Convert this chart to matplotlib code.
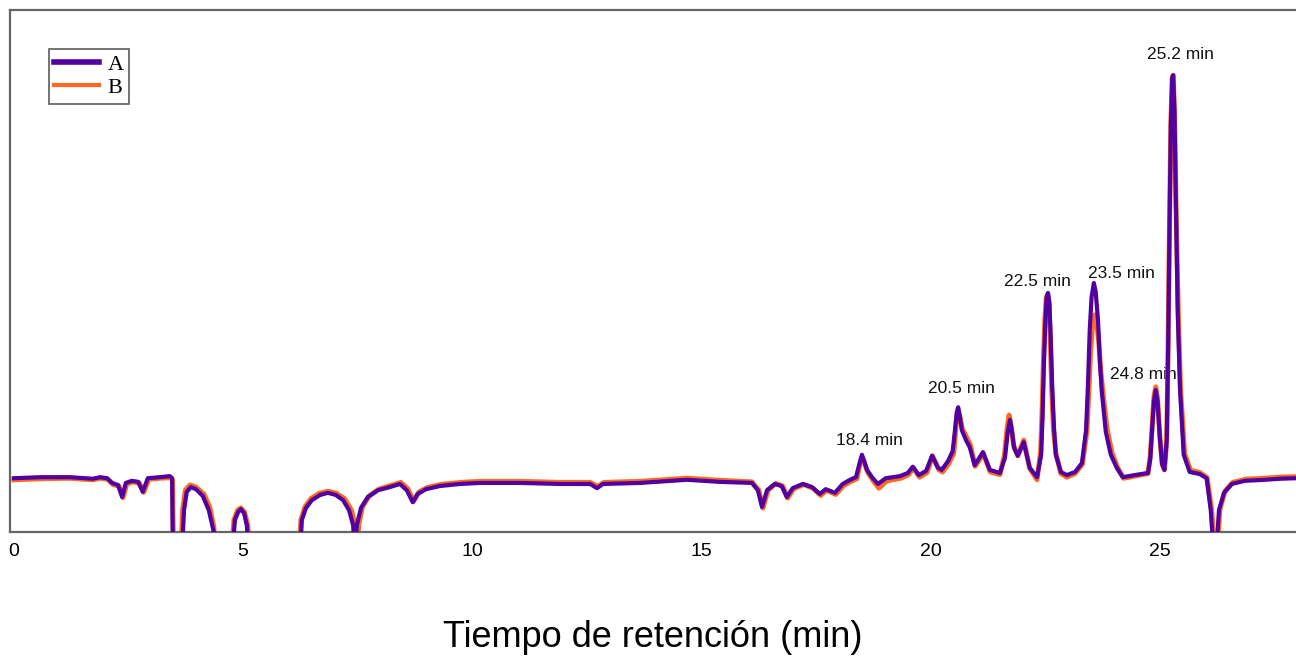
import matplotlib
matplotlib.use("Agg")
import matplotlib.pyplot as plt

# Cromatograma: tiempo de retención (min) y señal (unidades arbitrarias)
time_a = [0.00, 0.57, 1.22, 1.72, 1.88, 2.03, 2.14, 2.27, 2.36, 2.44, 2.57, 2.71, 2.81, 2.92,
          3.18, 3.40, 3.45, 3.47, 3.66, 3.71, 3.77, 3.86, 3.97, 4.12, 4.25, 4.36, 4.41,
          4.76, 4.82, 4.89, 4.95, 5.02, 5.08, 5.13,
          6.24, 6.28, 6.37, 6.50, 6.68, 6.85, 7.02, 7.18, 7.31, 7.40, 7.44, 7.48, 7.57,
          7.72, 7.94, 8.20, 8.42, 8.57, 8.70, 8.81, 8.99, 9.29, 9.73, 10.17, 11.04, 11.91,
          12.57, 12.72, 12.85, 13.66, 14.68, 15.40, 16.10, 16.23, 16.32, 16.43, 16.60,
          16.75, 16.86, 16.99, 17.21, 17.41, 17.58, 17.71, 17.91, 18.08, 18.24, 18.37,
          18.45, 18.50, 18.55, 18.61, 18.72, 18.85, 19.02, 19.33, 19.50, 19.61, 19.74,
          19.90, 20.03, 20.16, 20.24, 20.38, 20.48, 20.53, 20.57, 20.60, 20.63, 20.68,
          20.77, 20.85, 20.96, 21.14, 21.29, 21.51, 21.62, 21.68, 21.73, 21.77, 21.82,
          21.90, 22.03, 22.16, 22.32, 22.41, 22.44, 22.47, 22.50, 22.53, 22.56, 22.59,
          22.62, 22.65, 22.69, 22.73, 22.84, 22.97, 23.15, 23.30, 23.39, 23.43, 23.47,
          23.51, 23.56, 23.60, 23.65, 23.69, 23.73, 23.82, 23.93, 24.06, 24.19, 24.45,
          24.74, 24.79, 24.83, 24.87, 24.91, 24.95, 25.00, 25.05, 25.10, 25.15, 25.18,
          25.21, 25.24, 25.27, 25.29, 25.32, 25.35, 25.39, 25.44, 25.52, 25.65, 25.87,
          26.02, 26.11, 26.18, 26.22, 26.29, 26.40, 26.57, 26.85, 27.29, 27.62, 27.97]
signal_a = [10.3, 10.5, 10.5, 10.2, 10.5, 10.3, 9.4, 9.0, 6.7, 9.4, 9.8, 9.6, 7.7, 10.3,
            10.5, 10.7, 10.3, -5, -5, 4.2, 7.7, 8.6, 8.2, 6.9, 4.2, 0.0, -5,
            -5, 2.3, 3.8, 4.4, 3.6, 1.3, -5,
            -5, 2.3, 4.6, 6.1, 7.1, 7.5, 7.1, 6.1, 4.2, 1.3, -5, 1.3, 4.6,
            6.7, 8.0, 8.6, 9.2, 8.0, 5.7, 7.3, 8.2, 8.8, 9.2, 9.4, 9.4, 9.2,
            9.2, 8.4, 9.2, 9.4, 10.0, 9.6, 9.4, 8.0, 4.8, 8.0, 9.2,
            8.8, 6.7, 8.4, 9.2, 8.6, 7.3, 8.2, 7.5, 9.2, 10.0, 10.5,
            13.2, 14.8, 13.6, 11.9, 10.5, 9.2, 10.3, 10.7, 11.3, 12.5, 10.9,
            11.7, 14.6, 12.3, 11.9, 13.6, 15.5, 19.5, 23.0, 23.9, 22.5, 19.5,
            17.6, 16.3, 12.8, 15.3, 11.9, 11.3, 14.2, 19.0, 21.5, 19.5, 16.1,
            14.6, 17.2, 12.3, 10.5, 14.8, 22.0, 32.0, 40.0, 45.0, 45.8, 44.0,
            37.0, 28.0, 20.0, 14.8, 11.5, 10.9, 11.5, 13.2, 19.5, 28.0, 38.7,
            45.0, 47.7, 46.0, 40.6, 33.0, 27.2, 19.2, 14.8, 12.3, 10.5, 10.9,
            11.3, 14.0, 19.5, 25.0, 27.2, 25.0, 18.0, 13.0, 11.9, 17.6, 35.0,
            58.0, 78.0, 87.0, 87.5, 80.0, 63.0, 42.0, 27.2, 14.8, 11.5, 11.1,
            10.3, 4.2, -5, -5, 4.2, 7.5, 9.2, 9.8, 10.0, 10.2, 10.3]

time_b = [0.00, 0.57, 1.22, 1.72, 1.88, 2.05, 2.16, 2.29, 2.38, 2.46, 2.59, 2.73, 2.83, 2.94,
          3.18, 3.40, 3.46, 3.48, 3.64, 3.68, 3.74, 3.84, 3.97, 4.14, 4.27, 4.36, 4.41,
          4.74, 4.80, 4.88, 4.95, 5.03, 5.10, 5.15,
          6.22, 6.26, 6.35, 6.48, 6.66, 6.85, 7.04, 7.22, 7.36, 7.45, 7.49, 7.52, 7.60,
          7.75, 7.96, 8.22, 8.44, 8.59, 8.72, 8.83, 9.01, 9.31, 9.75, 10.17, 11.04, 11.91,
          12.57, 12.74, 12.87, 13.66, 14.68, 15.40, 16.10, 16.25, 16.34, 16.45, 16.62,
          16.77, 16.88, 17.01, 17.23, 17.43, 17.60, 17.73, 17.93, 18.10, 18.26, 18.39,
          18.45, 18.50, 18.56, 18.63, 18.74, 18.87, 19.04, 19.35, 19.52, 19.62, 19.76,
          19.92, 20.04, 20.18, 20.26, 20.40, 20.50, 20.54, 20.57, 20.60, 20.64, 20.69,
          20.78, 20.86, 20.97, 21.15, 21.30, 21.51, 21.61, 21.67, 21.71, 21.76, 21.81,
          21.90, 22.03, 22.16, 22.32, 22.40, 22.43, 22.46, 22.49, 22.52, 22.55, 22.58,
          22.61, 22.64, 22.68, 22.73, 22.84, 22.97, 23.15, 23.31, 23.41, 23.45, 23.49,
          23.54, 23.58, 23.62, 23.67, 23.71, 23.76, 23.85, 23.96, 24.08, 24.21, 24.45,
          24.74, 24.79, 24.83, 24.87, 24.91, 24.95, 25.00, 25.05, 25.10, 25.15, 25.18,
          25.21, 25.24, 25.27, 25.29, 25.32, 25.35, 25.40, 25.45, 25.54, 25.67, 25.87,
          26.03, 26.13, 26.20, 26.24, 26.31, 26.42, 26.59, 26.87, 27.29, 27.62, 27.97]
signal_b = [10.0, 10.2, 10.3, 10.0, 10.3, 10.1, 9.1, 8.8, 6.6, 9.2, 9.6, 9.4, 7.6, 10.1,
            10.3, 10.4, 10.0, -5, -5, 4.2, 8.0, 9.0, 8.6, 7.3, 4.8, 1.0, -5,
            -5, 2.3, 4.2, 4.6, 3.8, 1.3, -5,
            -5, 2.3, 4.8, 6.4, 7.4, 7.8, 7.4, 6.3, 4.2, 1.3, -5, 1.3, 4.8,
            6.9, 8.2, 8.9, 9.5, 8.3, 5.9, 7.6, 8.5, 9.1, 9.5, 9.7, 9.7, 9.5,
            9.5, 8.7, 9.5, 9.7, 10.3, 9.9, 9.6, 8.0, 4.6, 8.0, 9.3,
            8.8, 6.5, 8.3, 9.1, 8.4, 7.0, 8.0, 7.2, 8.9, 9.7, 10.2,
            12.8, 14.3, 13.0, 11.4, 9.9, 8.4, 9.8, 10.3, 11.0, 12.3, 10.5,
            11.4, 14.6, 11.9, 11.5, 13.2, 15.0, 19.0, 22.3, 23.0, 22.0, 19.8,
            18.2, 16.8, 12.6, 15.0, 11.5, 11.0, 14.8, 20.0, 22.4, 20.0, 16.6,
            14.6, 17.6, 12.2, 10.0, 15.5, 23.0, 33.0, 40.5, 44.8, 45.5, 43.5,
            36.5, 27.5, 19.5, 15.2, 11.2, 10.5, 11.2, 13.0, 19.5, 27.0, 35.0,
            40.5, 41.6, 40.5, 36.0, 31.0, 26.5, 19.6, 15.0, 12.3, 10.3, 10.7,
            11.2, 14.5, 20.0, 25.8, 27.8, 25.5, 18.2, 13.0, 11.9, 17.8, 35.5,
            58.5, 78.5, 87.0, 87.5, 80.5, 63.5, 42.5, 27.5, 15.0, 11.8, 11.4,
            10.4, 4.2, -5, -5, 4.4, 7.8, 9.5, 10.1, 10.3, 10.5, 10.6]

# Picos anotados
peak_labels = ["18.4 min", "20.5 min", "22.5 min", "23.5 min", "24.8 min", "25.2 min"]
label_x = [18.67, 20.68, 22.32, 24.17, 24.63, 25.44]
label_y = [17.6, 27.4, 47.9, 49.6, 30.1, 91.4]

xticks = [0, 5, 10, 15, 20, 25]

fig = plt.figure(figsize=(12.96, 6.58), dpi=100)
ax = fig.add_axes([0.0077, 0.1915, 0.9923, 0.7933])

ax.plot(time_b, signal_b, color='#FF6A20', lw=3.6, label='B', zorder=2,
        solid_joinstyle='round')
ax.plot(time_a, signal_a, color='#5200A0', lw=3.0, label='A', zorder=3,
        solid_joinstyle='round')

for txt, x, y in zip(peak_labels, label_x, label_y):
    ax.text(x, y, txt, ha='center', va='center', fontsize=12.5,
            family='Liberation Sans', color='#111111', zorder=1)

ax.set_xlim(-0.087, 27.97)
ax.set_ylim(0, 100)
ax.set_xticks(xticks)
ax.set_xticklabels([str(t) for t in xticks], fontsize=14, family='Liberation Sans')
ax.tick_params(axis='x', length=0, pad=8)
ax.set_yticks([])

for side in ['left', 'top', 'bottom']:
    ax.spines[side].set_color('#666666')
    ax.spines[side].set_linewidth(1.6)
ax.spines['right'].set_visible(False)

ax.set_xlabel('Tiempo de retención (min)', fontsize=26, family='Liberation Sans', labelpad=43)

# Leyenda con A primero
handles, labels = ax.get_legend_handles_labels()
leg = ax.legend(handles[::-1], labels[::-1], loc='upper left', bbox_to_anchor=(0.03, 0.925),
                prop={'family': 'Liberation Serif', 'size': 16}, frameon=True, fancybox=False,
                handlelength=2.0, handletextpad=0.4, borderpad=0.25, labelspacing=0.1,
                borderaxespad=0)
leg.get_frame().set_edgecolor('#333333')
leg.get_frame().set_linewidth(1.2)
leg.legend_handles[0].set_linewidth(4)
leg.legend_handles[1].set_linewidth(3)

fig.savefig('out.png', dpi=100)
